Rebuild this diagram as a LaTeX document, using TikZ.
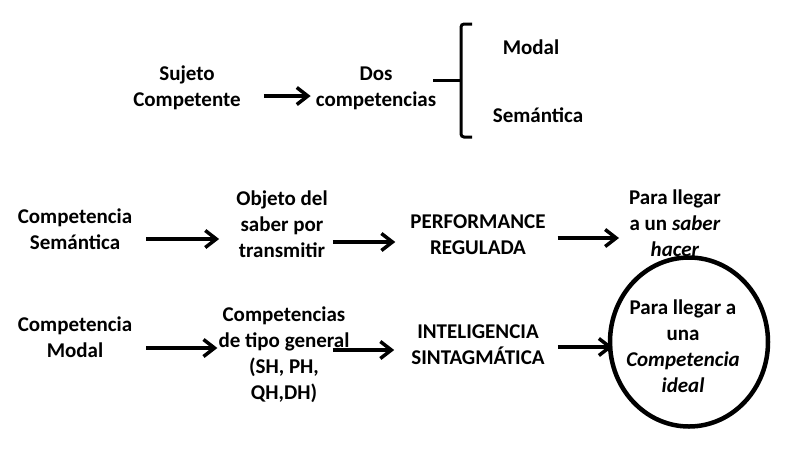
\documentclass[tikz,border=0pt]{standalone}
\usepackage{fontspec}
\setmainfont{Carlito}
\usetikzlibrary{arrows.meta,shapes.geometric}
\begin{document}
\begin{tikzpicture}[x=1pt,y=-1pt,
  lbl/.style={align=center,font=\fontsize{21}{26}\selectfont\bfseries,inner sep=0pt},
  arr/.style={line width=3.5pt,-{Straight Barb[length=11pt,width=17pt]}},
  brk/.style={line width=3pt,rounded corners=3pt}]
\useasboundingbox (0,0) rectangle (788,451);
% top row
\node[lbl] (sujeto) at (187,88) {Sujeto\\Competente};
\node[lbl] (dos) at (376,88) {Dos\\competencias};
\node[lbl] (modal) at (531,47) {Modal};
\node[lbl] (sem) at (538,115) {Semántica};
\draw[arr,shorten <=23pt,shorten >=5pt] (sujeto.east |- 0,96) -- (dos.west |- 0,96);
\draw[brk] (433,80) -- (461,80);
\draw[brk] (472,24) -- (461,24) -- (461,137) -- (472,137);
% second row
\node[lbl] (semC) at (75,229) {Competencia\\Semántica};
\node[lbl] (objeto) at (282,224) {Objeto del\\saber por\\transmitir};
\node[lbl] (perf) at (478,235) {PERFORMANCE\\REGULADA};
\node[lbl] (para1) at (675,223) {Para llegar\\a un \textit{saber}\\\textit{hacer}};
\draw[arr,shorten <=14pt,shorten >=17pt] (semC.east |- 0,239) -- (objeto.west |- 0,239);
\draw[arr,shorten <=5pt,shorten >=15pt] (objeto.east |- 0,242) -- (perf.west |- 0,242);
\draw[arr,shorten <=12pt,shorten >=10pt] (perf.east |- 0,238) -- (para1.west |- 0,238);
% third row
\node[lbl] (modC) at (75,337) {Competencia\\Modal};
\node[lbl] (compet) at (284,355) {Competencias\\de tipo general\\(SH, PH,\\QH,DH)};
\node[lbl] (intel) at (478,345) {INTELIGENCIA\\SINTAGMÁTICA};
\node[draw,ellipse,line width=4.5pt,minimum width=158pt,minimum height=169pt,inner sep=0pt] (circ) at (689,342) {};
\node[lbl] (para2) at (683,346) {Para llegar a\\una\\\textit{Competencia}\\\textit{ideal}};
\draw[arr,shorten <=14pt,shorten >=1pt] (modC.east |- 0,348) -- (compet.west |- 0,348);
\draw[arr,shorten <=-17pt,shorten >=17pt] (compet.east |- 0,350) -- (intel.west |- 0,350);
\draw[arr,shorten <=13pt,shorten >=-5pt] (intel.east |- 0,347) -- (circ.west |- 0,347);
\end{tikzpicture}
\end{document}
